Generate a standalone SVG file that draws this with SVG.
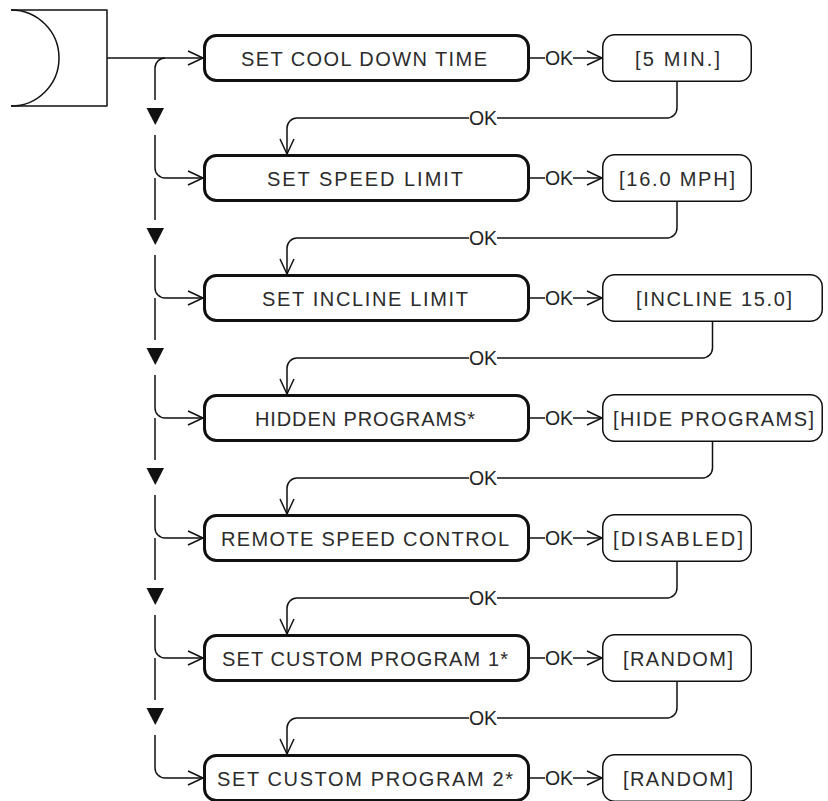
<svg xmlns="http://www.w3.org/2000/svg" width="828" height="801" viewBox="0 0 828 801">
<style>
.ln{fill:none;stroke:#111;stroke-width:1.5;stroke-linejoin:round;stroke-linecap:butt}
.ah{fill:none;stroke:#111;stroke-width:1.5;stroke-linejoin:miter}
.mb{fill:#fff;stroke:#111;stroke-width:3}
.vb{fill:#fff;stroke:#111;stroke-width:1.5}
.tx{font-family:"Liberation Sans Narrow","Liberation Sans",Arial,sans-serif;font-size:20px;fill:#2b2b2b}
.ok{font-family:"Liberation Sans",Arial,sans-serif;font-size:19.5px;fill:#222;text-anchor:middle}
.tri{fill:#111}
.bg{fill:#fff}
</style>
<rect width="828" height="801" fill="#fff"/>
<g id="start">
<path class="ln" d="M11,10 H107 V106 H11"/>
<path class="ln" d="M11,10 A48,48 0 0 1 11,106"/>
</g>
<g id="connectors">
<!-- entry line -->
<path class="ln" d="M107,58 H203"/>
<polyline class="ah" points="188,51 203,58 188,65"/>
<!-- left spine -->
<path class="ln" d="M165,58 A10,10 0 0 0 155,68 V100"/>
<polygon class="tri" points="146.5,108 164,108 155.3,125"/>
<path class="ln" d="M155,135 V168 A10,10 0 0 0 165,178 H203"/>
<polyline class="ah" points="188,171 203,178 188,185"/>
<path class="ln" d="M155,178 V220"/>
<polygon class="tri" points="146.5,228 164,228 155.3,245"/>
<path class="ln" d="M155,255 V288 A10,10 0 0 0 165,298 H203"/>
<polyline class="ah" points="188,291 203,298 188,305"/>
<path class="ln" d="M155,298 V340"/>
<polygon class="tri" points="146.5,348 164,348 155.3,365"/>
<path class="ln" d="M155,375 V408 A10,10 0 0 0 165,418 H203"/>
<polyline class="ah" points="188,411 203,418 188,425"/>
<path class="ln" d="M155,418 V460"/>
<polygon class="tri" points="146.5,468 164,468 155.3,485"/>
<path class="ln" d="M155,495 V528 A10,10 0 0 0 165,538 H203"/>
<polyline class="ah" points="188,531 203,538 188,545"/>
<path class="ln" d="M155,538 V580"/>
<polygon class="tri" points="146.5,588 164,588 155.3,605"/>
<path class="ln" d="M155,615 V648 A10,10 0 0 0 165,658 H203"/>
<polyline class="ah" points="188,651 203,658 188,665"/>
<path class="ln" d="M155,658 V700"/>
<polygon class="tri" points="146.5,708 164,708 155.3,725"/>
<path class="ln" d="M155,735 V768 A10,10 0 0 0 165,778 H203"/>
<polyline class="ah" points="188,771 203,778 188,785"/>
<!-- inline OK arrows -->
<path class="ln" d="M530,58 H545 M573,58 H602"/><polyline class="ah" points="587,51 602,58 587,65"/><text class="ok" x="559" y="65">OK</text>
<path class="ln" d="M530,178 H545 M573,178 H602"/><polyline class="ah" points="587,171 602,178 587,185"/><text class="ok" x="559" y="185">OK</text>
<path class="ln" d="M530,298 H545 M573,298 H602"/><polyline class="ah" points="587,291 602,298 587,305"/><text class="ok" x="559" y="305">OK</text>
<path class="ln" d="M530,418 H545 M573,418 H602"/><polyline class="ah" points="587,411 602,418 587,425"/><text class="ok" x="559" y="425">OK</text>
<path class="ln" d="M530,538 H545 M573,538 H602"/><polyline class="ah" points="587,531 602,538 587,545"/><text class="ok" x="559" y="545">OK</text>
<path class="ln" d="M530,658 H545 M573,658 H602"/><polyline class="ah" points="587,651 602,658 587,665"/><text class="ok" x="559" y="665">OK</text>
<path class="ln" d="M530,778 H545 M573,778 H602"/><polyline class="ah" points="587,771 602,778 587,785"/><text class="ok" x="559" y="785">OK</text>
<!-- feedback loops -->
<path class="ln" d="M677,82 V108 A10,10 0 0 1 667,118 H297 A10,10 0 0 0 287,128 V154"/>
<polyline class="ah" points="280,139 287,154 294,139"/>
<rect class="bg" x="469" y="110" width="28" height="16"/><text class="ok" x="483" y="125">OK</text>
<path class="ln" d="M677,202 V228 A10,10 0 0 1 667,238 H297 A10,10 0 0 0 287,248 V274"/>
<polyline class="ah" points="280,259 287,274 294,259"/>
<rect class="bg" x="469" y="230" width="28" height="16"/><text class="ok" x="483" y="245">OK</text>
<path class="ln" d="M712.5,322 V348 A10,10 0 0 1 702.5,358 H297 A10,10 0 0 0 287,368 V394"/>
<polyline class="ah" points="280,379 287,394 294,379"/>
<rect class="bg" x="469" y="350" width="28" height="16"/><text class="ok" x="483" y="365">OK</text>
<path class="ln" d="M712.5,442 V468 A10,10 0 0 1 702.5,478 H297 A10,10 0 0 0 287,488 V514"/>
<polyline class="ah" points="280,499 287,514 294,499"/>
<rect class="bg" x="469" y="470" width="28" height="16"/><text class="ok" x="483" y="485">OK</text>
<path class="ln" d="M677,562 V588 A10,10 0 0 1 667,598 H297 A10,10 0 0 0 287,608 V634"/>
<polyline class="ah" points="280,619 287,634 294,619"/>
<rect class="bg" x="469" y="590" width="28" height="16"/><text class="ok" x="483" y="605">OK</text>
<path class="ln" d="M677,682 V708 A10,10 0 0 1 667,718 H297 A10,10 0 0 0 287,728 V754"/>
<polyline class="ah" points="280,739 287,754 294,739"/>
<rect class="bg" x="469" y="710" width="28" height="16"/><text class="ok" x="483" y="725">OK</text>
</g>
<g id="n1"><rect class="mb" x="204.5" y="35.5" width="324" height="45" rx="12"/><text class="tx" x="241" y="66" textLength="246" lengthAdjust="spacing">SET COOL DOWN TIME</text></g>
<g id="n2"><rect class="mb" x="204.5" y="155.5" width="324" height="45" rx="12"/><text class="tx" x="267" y="186" textLength="196" lengthAdjust="spacing">SET SPEED LIMIT</text></g>
<g id="n3"><rect class="mb" x="204.5" y="275.5" width="324" height="45" rx="12"/><text class="tx" x="262" y="306" textLength="206" lengthAdjust="spacing">SET INCLINE LIMIT</text></g>
<g id="n4"><rect class="mb" x="204.5" y="395.5" width="324" height="45" rx="12"/><text class="tx" x="255" y="426" textLength="220" lengthAdjust="spacing">HIDDEN PROGRAMS*</text></g>
<g id="n5"><rect class="mb" x="204.5" y="515.5" width="324" height="45" rx="12"/><text class="tx" x="221" y="546" textLength="288" lengthAdjust="spacing">REMOTE SPEED CONTROL</text></g>
<g id="n6"><rect class="mb" x="204.5" y="635.5" width="324" height="45" rx="12"/><text class="tx" x="222" y="666" textLength="286" lengthAdjust="spacing">SET CUSTOM PROGRAM 1*</text></g>
<g id="n7"><rect class="mb" x="204.5" y="755.5" width="324" height="45" rx="12"/><text class="tx" x="217" y="786" textLength="296" lengthAdjust="spacing">SET CUSTOM PROGRAM 2*</text></g>
<g id="v1"><rect class="vb" x="602.75" y="34.75" width="148.5" height="46.5" rx="12"/><text class="tx" x="635" y="66" textLength="85" lengthAdjust="spacing">[5 MIN.]</text></g>
<g id="v2"><rect class="vb" x="602.75" y="154.75" width="148.5" height="46.5" rx="12"/><text class="tx" x="619" y="186" textLength="116" lengthAdjust="spacing">[16.0 MPH]</text></g>
<g id="v3"><rect class="vb" x="602.75" y="274.75" width="219.5" height="46.5" rx="12"/><text class="tx" x="636" y="306" textLength="156" lengthAdjust="spacing">[INCLINE 15.0]</text></g>
<g id="v4"><rect class="vb" x="602.75" y="394.75" width="219.5" height="46.5" rx="12"/><text class="tx" x="613" y="426" textLength="201" lengthAdjust="spacing">[HIDE PROGRAMS]</text></g>
<g id="v5"><rect class="vb" x="602.75" y="514.75" width="148.5" height="46.5" rx="12"/><text class="tx" x="613" y="546" textLength="130" lengthAdjust="spacing">[DISABLED]</text></g>
<g id="v6"><rect class="vb" x="602.75" y="634.75" width="148.5" height="46.5" rx="12"/><text class="tx" x="623" y="666" textLength="110" lengthAdjust="spacing">[RANDOM]</text></g>
<g id="v7"><rect class="vb" x="602.75" y="754.75" width="148.5" height="46.5" rx="12"/><text class="tx" x="623" y="786" textLength="110" lengthAdjust="spacing">[RANDOM]</text></g>
</svg>
